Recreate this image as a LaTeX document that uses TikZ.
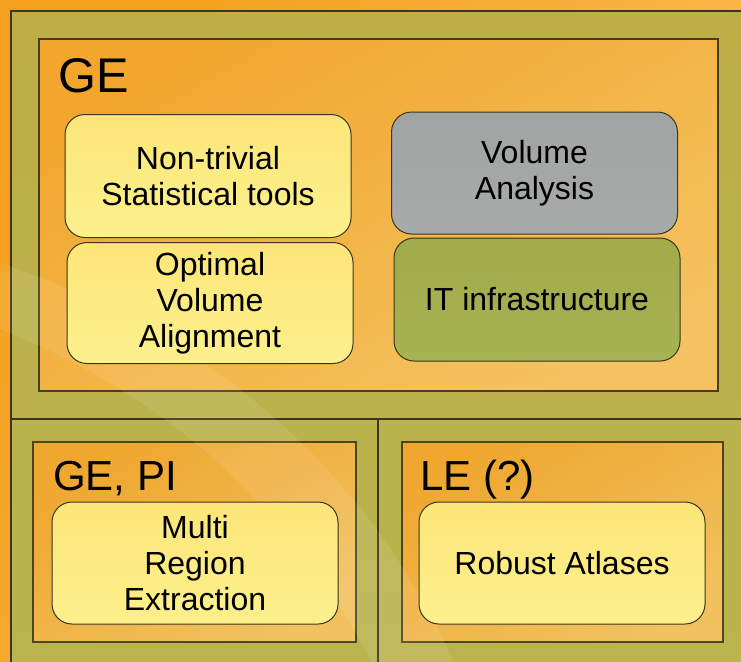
\documentclass[tikz,border=0pt]{standalone}
\usepackage{fontspec}
\setmainfont{Liberation Sans}
\definecolor{bgA}{HTML}{F4A01C}
\definecolor{bgB}{HTML}{FBBE55}
\definecolor{oliveA}{HTML}{BDAE46}
\definecolor{oliveB}{HTML}{B9B44E}
\definecolor{frA}{HTML}{F7A62C}
\definecolor{frB}{HTML}{F9C462}
\definecolor{yelA}{HTML}{FCE679}
\definecolor{yelB}{HTML}{FCF08C}
\definecolor{greyA}{HTML}{A0A4A3}
\definecolor{greyB}{HTML}{A6AAA8}
\definecolor{grnA}{HTML}{A1AB4A}
\definecolor{grnB}{HTML}{A7B252}
\definecolor{edge}{HTML}{3A3520}
\begin{document}
\begin{tikzpicture}[x=0.75pt,y=-0.75pt,
  frame/.style={draw=edge, line width=0.8pt, rectangle, inner sep=0pt, top color=frA, bottom color=frB, shading angle=30},
  title/.style={anchor=base west, inner sep=0pt, font=\fontsize{31.5}{36}\selectfont},
  card/.style={draw=edge, line width=0.75pt, rectangle, rounded corners=15pt, align=center,
    font=\fontsize{24}{26.8}\selectfont, inner sep=0pt, minimum width=214.5pt},
  yel/.style={card, top color=yelA, bottom color=yelB},
  gry/.style={card, top color=greyA, bottom color=greyB},
  grn/.style={card, top color=grnA, bottom color=grnB},
  rule/.style={draw=edge, line width=0.8pt},
  swoosh/.style={white, opacity=0.09}]
\useasboundingbox (0,0) rectangle (741,661);
\begin{scope}
\clip (0,0) rectangle (741,661);
% background
\shade[left color=bgA, right color=bgB, shading angle=60] (0,0) rectangle (741,661);
% outer olive area
\shade[top color=oliveA, bottom color=oliveB] (11,11) rectangle (760,680);
% frame lines
\draw[rule] (11,680) -- (11,11) -- (760,11);
\draw[rule] (11,419) -- (760,419);
\draw[rule] (378,419) -- (378,680);
\end{scope}
% group frames
\node[frame, minimum width=509.25pt, minimum height=264pt, opacity=0.93] (ge) at (378.5,215) {};
\node[frame, minimum width=242.25pt, minimum height=150pt, opacity=0.88] (gepi) at (194.5,542) {};
\node[frame, minimum width=240.75pt, minimum height=150pt, opacity=0.88] (le) at (562.5,542) {};
% light swoosh over the whole picture
\begin{scope}
\clip (0,0) rectangle (741,661);
\fill[swoosh] (-40,250) .. controls (200,320) and (380,470) .. (470,700)
  -- (390,700) .. controls (310,520) and (160,380) .. (-40,315) -- cycle;
\end{scope}
% titles
\node[title, font=\fontsize{36.5}{40}\selectfont] (tge) at (58,92) {GE};
\node[title] (tgepi) at (53,490) {GE, PI};
\node[title] (tle) at (420,490) {LE (?)};
% cards
\node[yel, minimum height=92.25pt] (stat) at (208,176) {Non-trivial\\Statistical tools};
\node[yel, minimum height=90.75pt] (align) at (210,303) {Optimal\\Volume\\Alignment};
\node[gry, minimum height=91.5pt] (vol) at (534.5,173) {Volume\\Analysis};
\node[grn, minimum height=92.25pt] (it) at (537,299.5) {IT infrastructure};
\node[yel, minimum height=91.5pt] (multi) at (195,563) {Multi\\Region\\Extraction};
\node[yel, minimum height=91.5pt] (atlas) at (562,563) {Robust Atlases};
\end{tikzpicture}
\end{document}
